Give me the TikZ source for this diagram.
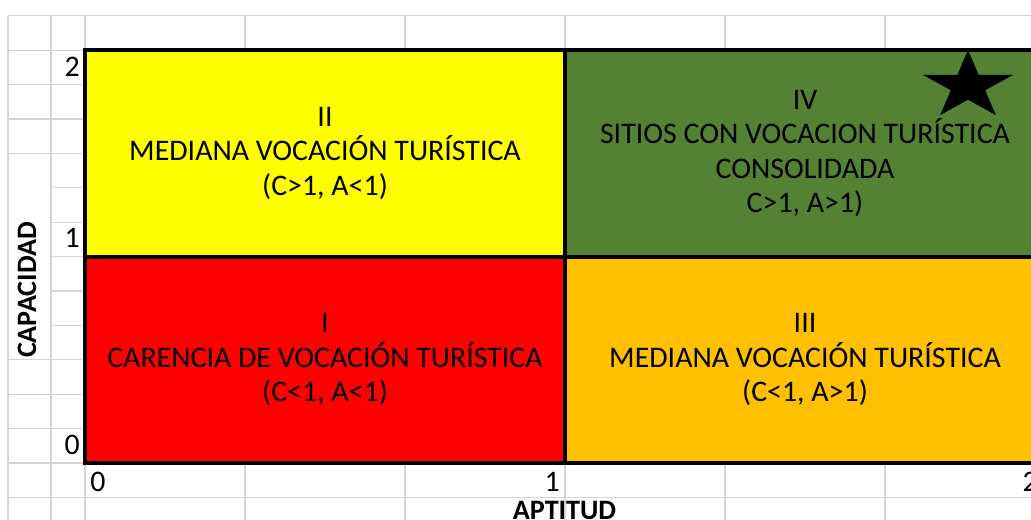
\documentclass[tikz,border=0pt]{standalone}
\usepackage{fontspec}
\setmainfont{Carlito}
\usetikzlibrary{shapes.geometric}

\definecolor{quadyellow}{HTML}{FFFF00}
\definecolor{quadgreen}{HTML}{548235}
\definecolor{quadred}{HTML}{FF0000}
\definecolor{quadorange}{HTML}{FFC000}
\definecolor{cellgray}{HTML}{D4D4D4}

\begin{document}
\begin{tikzpicture}[
    quad/.style={rectangle, draw=black, line width=2.2pt, minimum width=9.6cm, minimum height=4.128cm, align=center, inner sep=0pt, font=\fontsize{17}{19.6}\selectfont},
    gridline/.style={draw=cellgray, line width=0.6pt},
    tick/.style={inner sep=0pt, font=\fontsize{17}{18}\selectfont},
    axis/.style={inner sep=0pt, font=\fontsize{16}{18}\selectfont\bfseries}
]
    \useasboundingbox (-1.7,-1.14) rectangle (18.92,9.26);

    % Sheet cells
    \draw[gridline, xstep=3.2, ystep=0.688] (0,-1.38) grid (19.2,8.95);
    \draw[gridline, xstep=0.68, ystep=0.688] (-0.68,-1.38) grid (0,8.95);
    \draw[gridline, xstep=5, ystep=0.688] (-1.54,-1.38) grid (-0.68,2.07);
    \draw[gridline, xstep=5, ystep=0.688] (-1.54,6.18) grid (-0.68,8.95);
    \draw[gridline] (-1.54,-1.38) -- (-1.54,8.944);

    % Quadrants
    \node[quad, fill=quadyellow] (q2) at (4.8,6.192) {II\\MEDIANA VOCACIÓN TURÍSTICA\\(C>1, A<1)};
    \node[quad, fill=quadgreen] (q4) at (14.4,6.192) {IV\\SITIOS CON VOCACION TURÍSTICA\\CONSOLIDADA\\C>1, A>1)};
    \node[quad, fill=quadred] (q1) at (4.8,2.064) {I\\CARENCIA DE VOCACIÓN TURÍSTICA\\(C<1, A<1)};
    \node[quad, fill=quadorange] (q3) at (14.4,2.064) {III\\MEDIANA VOCACIÓN TURÍSTICA\\(C<1, A>1)};

    % Star
    \node[star, star points=5, star point ratio=2.618, fill=black, minimum size=1.436cm, inner sep=0pt, xscale=1.317, transform shape] (star) at (17.66,7.54) {};

    % Axis values
    \node[tick, anchor=base east] (c2) at (-0.1,7.72) {2};
    \node[tick, anchor=base east] (c1) at (-0.1,4.30) {1};
    \node[tick, anchor=base east] (c0) at (-0.1,0.16) {0};
    \node[tick, anchor=base west] (a0) at (0.1,-0.58) {0};
    \node[tick, anchor=base east] (a1) at (9.5,-0.58) {1};
    \node[tick, anchor=base east] (a2) at (19.06,-0.58) {2};

    % Axis titles
    \node[axis, rotate=90] (capacidad) at (-1.16,3.46) {CAPACIDAD};
    \node[axis, anchor=north] (aptitud) at (9.59,-0.76) {APTITUD};
\end{tikzpicture}
\end{document}
